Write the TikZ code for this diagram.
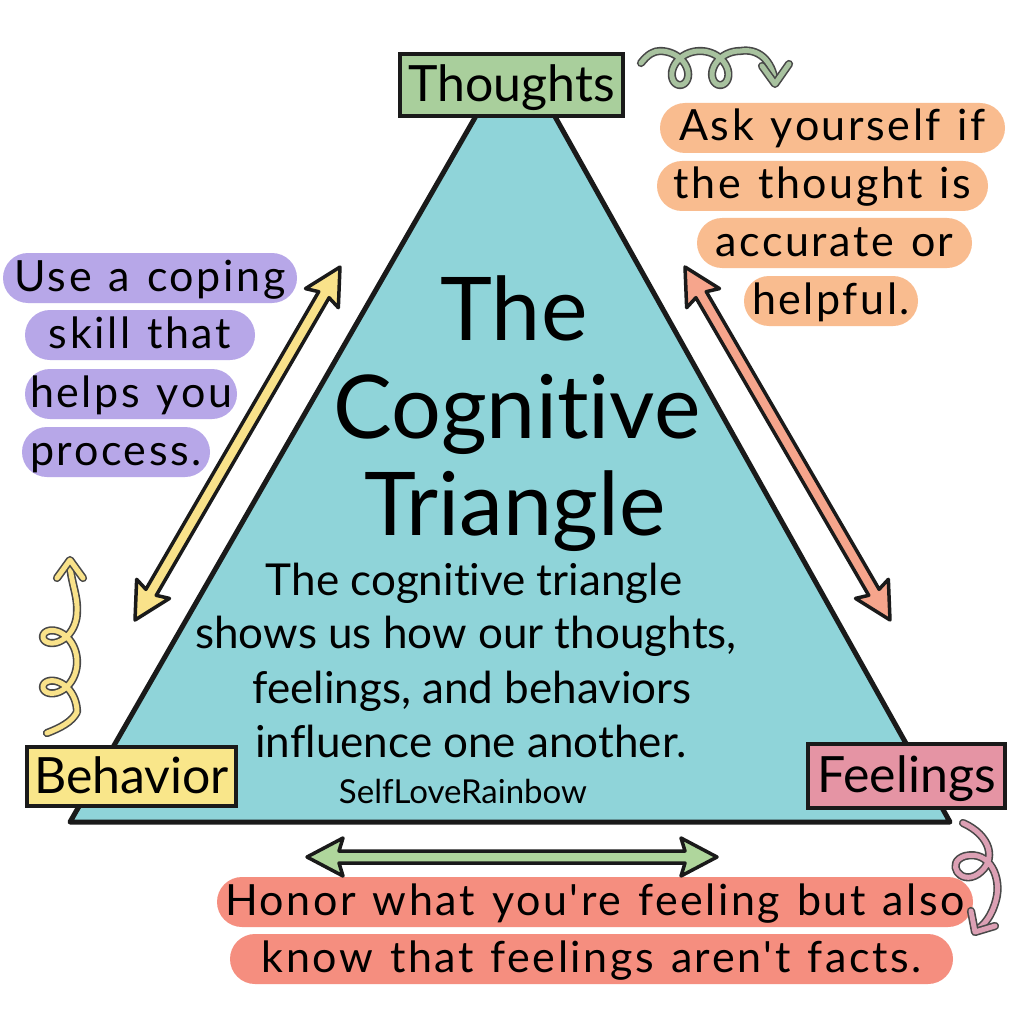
\documentclass[tikz,border=0pt]{standalone}
\usepackage{fontspec}
\setmainfont{Lato}[Ligatures={NoCommon}]
\newfontfamily\pillfont{Lato}[LetterSpace=6,WordSpace=1.25,Ligatures={NoCommon}]
\usetikzlibrary{calc}
\definecolor{teal1}{HTML}{8FD4D9}
\definecolor{thoughtc}{HTML}{A9CF9C}
\definecolor{behavc}{HTML}{F9E68A}
\definecolor{feelc}{HTML}{E594A4}
\definecolor{orangep}{HTML}{F9BC8F}
\definecolor{purplep}{HTML}{B7A7E8}
\definecolor{salmonp}{HTML}{F58E7F}
\definecolor{yarrow}{HTML}{F9E28A}
\definecolor{oarrow}{HTML}{F6A58C}
\definecolor{garrow}{HTML}{AFD69C}
\definecolor{gcurl}{HTML}{A8C29F}
\definecolor{pcurl}{HTML}{DCA0B4}
\definecolor{ink}{HTML}{1A1A1A}
\newcommand{\fsz}[1]{\fontsize{#1}{#1}\selectfont}
\tikzset{
  pics/dblarrow/.style 2 args={code={
    \pgfmathsetmacro\arrL{#1}
    \filldraw[fill=#2, draw=ink, line width=3.5pt, line join=round]
      (0,0) -- (36,19) -- (32,6) -- (\arrL-32,6) -- (\arrL-36,19) -- (\arrL,0)
      -- (\arrL-36,-19) -- (\arrL-32,-6) -- (32,-6) -- (36,-19) -- cycle;
  }},
  tri/.style={draw=ink, line width=5pt, fill=teal1, line join=round},
  lbox/.style={draw=ink, line width=4pt, inner sep=0pt, font=\fsz{50}},
  pill/.style={fill=#1, rounded corners=25pt, inner sep=0pt, minimum height=50pt,
     text height=29pt, text depth=3pt, font=\pillfont\fsz{43}},
  bodytext/.style={anchor=base, inner sep=0pt, font=\fsz{44}},
  titletext/.style={anchor=base, inner sep=0pt, font=\fsz{88}},
  curl/.style={draw=ink!80, double=#1, double distance=5pt, line width=1.6pt,
     line cap=round, line join=round},
}
\begin{document}
\begin{tikzpicture}[x=1pt,y=-1pt]
\useasboundingbox (0,0) rectangle (1024,1024);
\fill[white] (0,0) rectangle (1024,1024);

% triangle (apex hidden under the Thoughts box)
\coordinate (tl) at (499.5,75);
\coordinate (tr) at (531.7,75);
\coordinate (bl) at (70,822);
\coordinate (br) at (950,822);
\draw[tri] (tl) -- (tr) -- (br) -- (bl) -- cycle;

% corner labels
\node[lbox, fill=thoughtc, minimum width=223pt, minimum height=62pt, text height=38pt, text depth=4pt] (thoughts) at (511.5,85) {Thoughts};
\node[lbox, fill=behavc, minimum width=209pt, minimum height=59pt, text height=36pt, text depth=3pt] (behavior) at (131.5,776.5) {Behavior};
\node[lbox, fill=feelc, minimum width=197pt, minimum height=64pt, text height=36pt, text depth=3pt] (feelings) at (906.5,776) {Feelings};

% title
\node[titletext] (the) at (514,340) {The};
\node[titletext] (cog) at (517,438) {Cognitive};
\node[titletext] (trig) at (515,535) {Triangle};

% body
\node[bodytext] (b1) at (474,595) {The cognitive triangle};
\node[bodytext] (b2) at (466,648) {shows us how our thoughts,};
\node[bodytext] (b3) at (472,703) {feelings, and behaviors};
\node[bodytext] (b4) at (471,757) {influence one another.};
\node[anchor=base, inner sep=0pt, font=\fsz{33}] (credit) at (463,803) {SelfLoveRainbow};

% orange pills
\node[pill=orangep, minimum width=345pt] (o1) at (832.5,128) {Ask yourself if};
\node[pill=orangep, minimum width=331pt] (o2) at (822.5,186) {the thought is};
\node[pill=orangep, minimum width=275pt] (o3) at (834.5,243) {accurate or};
\node[pill=orangep, minimum width=174pt] (o4) at (831,301) {helpful.};

% purple pills
\node[pill=purplep, minimum width=294pt] (p1) at (150,278) {Use a coping};
\node[pill=purplep, minimum width=230pt] (p2) at (140,335) {skill that};
\node[pill=purplep, minimum width=212pt] (p3) at (131,394) {helps you};
\node[pill=purplep, minimum width=188pt] (p4) at (116,452) {process.};

% salmon pills
\node[pill=salmonp, minimum width=756pt] (s1) at (595,902) {Honor what you're feeling but also};
\node[pill=salmonp, minimum width=723pt] (s2) at (591.5,959) {know that feelings aren't facts.};

% double arrows
\coordinate (ya) at (135,620);
\coordinate (yb) at (340,267);
\coordinate (oa) at (685,267);
\coordinate (ob) at (890,620);
\coordinate (ga) at (307,857);
\coordinate (gb) at (717,857);
\path let \p1=($(yb)-(ya)$), \n1={atan2(\y1,\x1)}, \n2={veclen(\x1,\y1)} in
  (ya) pic[rotate=\n1]{dblarrow={\n2}{yarrow}};
\path let \p1=($(ob)-(oa)$), \n1={atan2(\y1,\x1)}, \n2={veclen(\x1,\y1)} in
  (oa) pic[rotate=\n1]{dblarrow={\n2}{oarrow}};
\path let \p1=($(gb)-(ga)$), \n1={atan2(\y1,\x1)}, \n2={veclen(\x1,\y1)} in
  (ga) pic[rotate=\n1]{dblarrow={\n2}{garrow}};

% curly arrows
\draw[curl=gcurl] (641,63) .. controls (648,54) and (654,51) .. (660,51)
  -- plot[domain=-3.1416:9.4248, samples=150, smooth, variable=\t]
     ({680+6.4*\t-17*sin(\t r)},{68+17*cos(\t r)})
  .. controls (758,48) and (772,60) .. (775,82);
\draw[curl=gcurl] (762,66) -- (775,84) -- (789,64);

\draw[curl=yarrow] (47,733) .. controls (60,728) and (72,722) .. (77,712)
  -- plot[domain=-3.1416:9.4248, samples=150, smooth, variable=\t]
     ({60-17*cos(\t r)},{687-8*\t+17*sin(\t r)})
  .. controls (78,595) and (70,580) .. (70,562);
\draw[curl=yarrow] (57,578) -- (70,560) -- (83,578);

\draw[curl=pcurl] (963,823) .. controls (990,835) and (998,860) .. (978,874)
  .. controls (960,886) and (945,862) .. (965,856)
  .. controls (990,850) and (1002,878) .. (996,900)
  .. controls (992,915) and (985,925) .. (975,931);
\draw[curl=pcurl] (971,911) -- (975,932) -- (995,926);
\end{tikzpicture}
\end{document}
